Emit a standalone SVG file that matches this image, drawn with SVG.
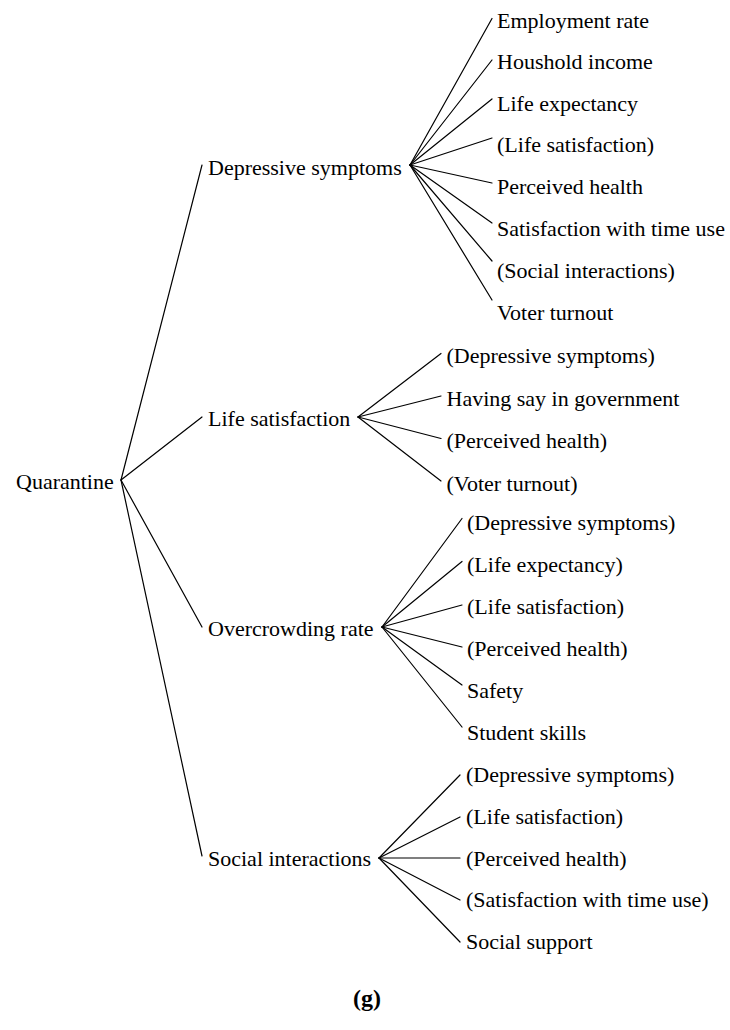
<svg xmlns="http://www.w3.org/2000/svg" width="730" height="1030" viewBox="0 0 730 1030">
<style>
text{font-family:"Liberation Serif","Times New Roman",serif;font-size:22px;fill:#000}
.cap{font-weight:bold;font-size:24px}
#edges line{stroke:#000;stroke-width:1.2;stroke-linecap:round}
</style>
<rect width="730" height="1030" fill="#fff"/>
<g id="edges">
<line x1="121" y1="480" x2="202" y2="165"/>
<line x1="121" y1="480" x2="202" y2="417"/>
<line x1="121" y1="480" x2="202" y2="627"/>
<line x1="121" y1="480" x2="202" y2="856"/>
<line x1="410" y1="165" x2="492" y2="18.5"/>
<line x1="410" y1="165" x2="492" y2="60"/>
<line x1="410" y1="165" x2="492" y2="99"/>
<line x1="410" y1="165" x2="492" y2="138"/>
<line x1="410" y1="165" x2="492" y2="183"/>
<line x1="410" y1="165" x2="492" y2="223"/>
<line x1="410" y1="165" x2="492" y2="261"/>
<line x1="410" y1="165" x2="492" y2="300"/>
<line x1="358" y1="417" x2="441" y2="353.5"/>
<line x1="358" y1="417" x2="441" y2="396"/>
<line x1="358" y1="417" x2="441" y2="438.5"/>
<line x1="358" y1="417" x2="441" y2="481"/>
<line x1="382" y1="627" x2="462" y2="518.5"/>
<line x1="382" y1="627" x2="462" y2="561.5"/>
<line x1="382" y1="627" x2="462" y2="605"/>
<line x1="382" y1="627" x2="462" y2="647"/>
<line x1="382" y1="627" x2="462" y2="685"/>
<line x1="382" y1="627" x2="462" y2="727"/>
<line x1="379" y1="858" x2="460" y2="775"/>
<line x1="379" y1="858" x2="460" y2="817"/>
<line x1="379" y1="858" x2="460" y2="858"/>
<line x1="379" y1="858" x2="460" y2="900"/>
<line x1="379" y1="858" x2="460" y2="942"/>
</g>
<g id="n-quarantine"><text x="16" y="489">Quarantine</text></g>
<g id="n-ds"><text x="208" y="175">Depressive symptoms</text></g>
<g id="n-ls"><text x="208" y="426">Life satisfaction</text></g>
<g id="n-or"><text x="208" y="636">Overcrowding rate</text></g>
<g id="n-si"><text x="208" y="866">Social interactions</text></g>
<g id="n-ds-1"><text x="497" y="27.5">Employment rate</text></g>
<g id="n-ds-2"><text x="497" y="69">Houshold income</text></g>
<g id="n-ds-3"><text x="497" y="110.5">Life expectancy</text></g>
<g id="n-ds-4"><text x="497" y="152">(Life satisfaction)</text></g>
<g id="n-ds-5"><text x="497" y="194">Perceived health</text></g>
<g id="n-ds-6"><text x="497" y="236">Satisfaction with time use</text></g>
<g id="n-ds-7"><text x="497" y="278">(Social interactions)</text></g>
<g id="n-ds-8"><text x="497" y="319.5">Voter turnout</text></g>
<g id="n-ls-1"><text x="446.5" y="363">(Depressive symptoms)</text></g>
<g id="n-ls-2"><text x="446.5" y="405.5">Having say in government</text></g>
<g id="n-ls-3"><text x="446.5" y="448">(Perceived health)</text></g>
<g id="n-ls-4"><text x="446.5" y="490.5">(Voter turnout)</text></g>
<g id="n-or-1"><text x="467" y="530">(Depressive symptoms)</text></g>
<g id="n-or-2"><text x="467" y="572">(Life expectancy)</text></g>
<g id="n-or-3"><text x="467" y="614">(Life satisfaction)</text></g>
<g id="n-or-4"><text x="467" y="655.5">(Perceived health)</text></g>
<g id="n-or-5"><text x="467" y="697.5">Safety</text></g>
<g id="n-or-6"><text x="467" y="739.5">Student skills</text></g>
<g id="n-si-1"><text x="466" y="782">(Depressive symptoms)</text></g>
<g id="n-si-2"><text x="466" y="824">(Life satisfaction)</text></g>
<g id="n-si-3"><text x="466" y="865.5">(Perceived health)</text></g>
<g id="n-si-4"><text x="466" y="907">(Satisfaction with time use)</text></g>
<g id="n-si-5"><text x="466" y="949">Social support</text></g>
<g id="caption"><text class="cap" x="367" y="1006" text-anchor="middle">(g)</text></g>
</svg>
